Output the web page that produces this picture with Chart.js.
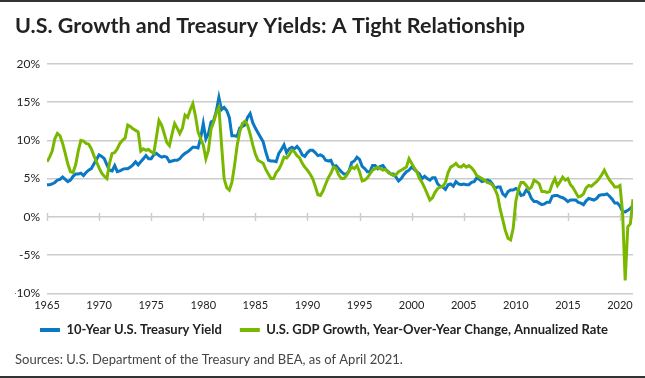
<!DOCTYPE html>
<html>
<head>
<meta charset="utf-8">
<script src="https://cdn.jsdelivr.net/npm/chart.js@4.4.1/dist/chart.umd.min.js"></script>
<style>
  body { margin: 0; background: #fff; }
  .wrap { width: 645px; height: 374px; border-top: 2px solid #333; border-bottom: 2px solid #333; }
</style>
</head>
<body>
<div class="wrap"><canvas id="myChart"></canvas></div>
<script>
// quarterly values, first point at 1965.0, one point every quarter
const startYear = 1965;

// 10-Year U.S. Treasury Yield (%)
const treasuryYield = [
  4.2, 4.2, 4.3, 4.5,   4.8, 4.9, 5.2, 4.9,   4.6, 4.8, 5.3, 5.6,   5.6, 5.7, 5.4, 5.8,   // 1965-68
  6.1, 6.3, 6.9, 7.5,   8.1, 7.9, 7.6, 6.8,   6.1, 6.0, 6.7, 5.9,   6.0, 6.2, 6.3, 6.3,   // 1969-72
  6.5, 6.8, 7.2, 6.8,   7.2, 7.6, 8.0, 7.6,   7.6, 8.1, 8.3, 8.0,   7.8, 7.9, 7.8, 7.2,   // 1973-76
  7.3, 7.4, 7.4, 7.6,   8.0, 8.3, 8.5, 8.8,   9.1, 9.1, 9.0, 10.3,  12.2, 10.2, 10.9, 12.4, // 1977-80
  12.6, 13.8, 15.6, 14.0, 14.3, 13.9, 13.0, 10.6, 10.6, 10.5, 11.6, 11.8, 12.0, 13.0, 13.5, 12.3, // 1981-84
  11.6, 11.0, 10.4, 9.8, 8.5, 7.4, 7.3, 7.3,   7.2, 8.3, 8.8, 9.4,   8.4, 8.9, 9.1, 8.9,   // 1985-88
  9.2, 8.8, 8.1, 7.9,   8.4, 8.7, 8.7, 8.4,   8.0, 8.1, 7.9, 7.4,   7.3, 7.4, 6.6, 6.7,   // 1989-92
  6.3, 5.9, 5.6, 5.6,   6.0, 7.1, 7.3, 7.8,   7.5, 6.6, 6.3, 5.9,   5.9, 6.7, 6.7, 6.3,   // 1993-96
  6.6, 6.7, 6.2, 5.9,   5.6, 5.6, 5.2, 4.7,   5.0, 5.5, 5.9, 6.1,   6.5, 6.2, 5.9, 5.6,   // 1997-2000
  5.0, 5.3, 5.0, 4.8,   5.1, 5.1, 4.3, 4.0,   3.9, 3.6, 4.2, 4.3,   4.0, 4.6, 4.3, 4.2,   // 2001-04
  4.3, 4.2, 4.2, 4.5,   4.6, 5.1, 4.9, 4.6,   4.7, 4.8, 4.7, 4.3,   3.7, 3.9, 3.9, 3.0,   // 2005-08
  2.7, 3.3, 3.5, 3.5,   3.7, 3.5, 2.8, 2.9,   3.5, 3.2, 2.4, 2.0,   2.0, 1.8, 1.6, 1.7,   // 2009-12
  1.9, 1.9, 2.7, 2.8,   2.8, 2.6, 2.5, 2.3,   2.0, 2.2, 2.2, 2.2,   1.9, 1.8, 1.6, 2.1,   // 2013-16
  2.4, 2.3, 2.2, 2.4,   2.8, 2.9, 2.9, 3.0,   2.7, 2.3, 1.8, 1.8,   1.4, 0.7, 0.65, 0.85, // 2017-20
  1.1, 1.5                                                                               // 2021
];

// U.S. GDP Growth, Year-Over-Year Change (%)
const gdpGrowth = [
  7.2, 7.8, 8.6, 10.2,  10.9, 10.6, 9.6, 8.3,  6.9, 5.9, 5.8, 6.8,   8.6, 10.0, 9.9, 9.6,  // 1965-68
  9.5, 8.9, 8.0, 7.2,   6.4, 5.7, 5.3, 5.0,   7.0, 8.3, 8.4, 8.9,   9.6, 10.0, 10.3, 12.0, // 1969-72
  11.8, 11.5, 11.3, 11.1, 8.6, 8.9, 8.7, 8.8, 8.5, 8.3, 10.4, 12.6, 12.0, 10.9, 9.7, 9.3,  // 1973-76
  10.8, 12.2, 11.6, 10.9, 11.6, 13.3, 13.0, 14.0, 14.8, 13.2, 11.1, 10.2, 9.4, 7.6, 8.7, 11.5, // 1977-80
  12.4, 13.6, 14.3, 9.5, 5.0, 3.8, 3.5, 4.5,  6.7, 9.3, 11.1, 12.2,  12.5, 12.0, 10.8, 9.4, // 1981-84
  8.2, 7.4, 7.2, 7.0,   6.2, 5.6, 5.0, 5.0,   5.8, 6.2, 6.9, 7.8,   7.7, 8.1, 8.7, 8.5,   // 1985-88
  8.0, 7.7, 7.0, 6.5,   6.1, 5.6, 5.0, 4.0,   2.9, 2.8, 3.4, 4.3,   5.1, 5.7, 6.5, 6.3,   // 1989-92
  5.5, 5.0, 5.0, 5.4,   6.0, 6.5, 6.3, 6.7,   5.9, 4.7, 4.8, 5.1,   5.6, 6.1, 6.3, 6.5,   // 1993-96
  6.3, 6.1, 6.2, 5.8,   5.6, 5.4, 5.5, 5.9,   6.1, 6.3, 6.5, 7.6,   7.0, 6.4, 5.9, 5.0,   // 1997-2000
  4.5, 3.8, 3.0, 2.2,   2.5, 3.2, 3.7, 3.9,   4.0, 4.5, 5.8, 6.5,   6.7, 7.0, 6.6, 6.5,   // 2001-04
  6.8, 6.5, 6.7, 6.4,   6.0, 5.4, 5.2, 5.0,   4.8, 4.5, 4.4, 4.2,   3.6, 2.8, 1.0, -0.4,  // 2005-08
  -1.8, -2.8, -3.0, -1.5, 2.0, 3.6, 4.5, 4.5, 4.1, 3.6, 3.9, 4.8,   4.6, 4.3, 3.3, 3.3,   // 2009-12
  3.2, 3.3, 4.3, 5.0,   4.1, 4.6, 5.2, 4.8,   5.0, 4.2, 3.8, 3.2,   2.6, 2.7, 3.0, 3.8,   // 2013-16
  4.1, 4.0, 4.3, 4.6,   5.0, 5.5, 6.1, 5.4,   4.8, 4.4, 3.9, 3.9,   4.1, 0.6, -8.3, -1.3, // 2017-20
  -0.9, 2.3                                                                              // 2021
];

const yearTicks = [1965, 1970, 1975, 1980, 1985, 1990, 1995, 2000, 2005, 2010, 2015, 2020];
const pctTicks = [-10, -5, 0, 5, 10, 15, 20];

const quarters = gdpGrowth.map((_, i) => startYear + i / 4);

const blue = '#0b78c3';
const green = '#7ab800';
const gridColor = '#cccccc';

// marcas de los años sobre la linea del 0% y etiquetas del eje x
const yearMarks = {
  id: 'yearMarks',
  beforeDatasetsDraw(chart) {
    const x = chart.scales.x, y = chart.scales.y;
    const y0 = y.getPixelForValue(0);
    const c = chart.ctx;
    c.save();
    c.strokeStyle = gridColor;
    c.lineWidth = 1.5;
    yearTicks.forEach(v => {
      const px = Math.round(x.getPixelForValue(v)) + 0.5;
      c.beginPath();
      c.moveTo(px, y0 - 4);
      c.lineTo(px, y0 + 4);
      c.stroke();
    });
    c.restore();
  },
  afterDraw(chart) {
    const x = chart.scales.x;
    const c = chart.ctx;
    c.save();
    c.fillStyle = '#222';
    c.font = '11px Lato';
    c.textAlign = 'center';
    c.textBaseline = 'middle';
    yearTicks.forEach(v => {
      c.fillText(String(v), x.getPixelForValue(v), chart.chartArea.bottom + 12);
    });
    c.restore();
  }
};

const ctx = document.getElementById('myChart').getContext('2d');

new Chart(ctx, {
  type: 'line',
  data: {
    datasets: [{
      label: '10-Year U.S. Treasury Yield',
      data: treasuryYield.map((v, i) => ({ x: quarters[i], y: v })),
      borderColor: blue,
      backgroundColor: blue,
      borderWidth: 3,
      pointRadius: 0,
      order: 1
    }, {
      label: 'U.S. GDP Growth, Year-Over-Year Change, Annualized Rate',
      data: gdpGrowth.map((v, i) => ({ x: quarters[i], y: v })),
      borderColor: green,
      backgroundColor: green,
      borderWidth: 3,
      pointRadius: 0,
      order: 0
    }]
  },
  plugins: [yearMarks],
  options: {
    responsive: true,
    maintainAspectRatio: false,
    animation: false,
    layout: { padding: { left: 15, right: 12, top: 0, bottom: 4 } },
    plugins: {
      title: {
        display: true,
        text: 'U.S. Growth and Treasury Yields: A Tight Relationship',
        align: 'start',
        color: '#222',
        font: { family: 'Lato', size: 21.5, weight: 'bold' },
        padding: { top: 11, bottom: 25 }
      },
      subtitle: {
        display: true,
        position: 'bottom',
        text: 'Sources: U.S. Department of the Treasury and BEA, as of April 2021.',
        align: 'start',
        color: '#444',
        font: { family: 'Lato', size: 13 },
        padding: { top: 6, bottom: 4 }
      },
      legend: {
        position: 'bottom',
        labels: {
          color: '#222',
          font: { family: 'Lato', size: 13, weight: 'bold' },
          boxWidth: 20,
          boxHeight: 4,
          padding: 18,
          sort: (a, b) => a.datasetIndex - b.datasetIndex,
          generateLabels: (chart) => {
            const items = Chart.defaults.plugins.legend.labels.generateLabels(chart);
            items.forEach(it => { it.lineWidth = 0; it.fillStyle = it.strokeStyle; });
            return items;
          }
        }
      },
      tooltip: { enabled: false }
    },
    scales: {
      x: {
        type: 'linear',
        min: 1965,
        max: 2021.25,
        afterBuildTicks: (scale) => { scale.ticks = yearTicks.map(v => ({ value: v })); },
        afterFit: (scale) => { scale.height = 12; },
        grid: { display: false, drawTicks: false },
        border: { display: false },
        ticks: { display: false }
      },
      y: {
        min: -10,
        max: 20,
        afterBuildTicks: (scale) => { scale.ticks = pctTicks.map(v => ({ value: v })); },
        afterFit: (scale) => { scale.width = 32; },
        grid: { color: gridColor, lineWidth: 1.5, drawTicks: false },
        border: { display: false },
        ticks: {
          color: '#222',
          font: { family: 'Lato', size: 12 },
          padding: 7,
          callback: (v) => v + '%'
        }
      }
    }
  }
});
</script>
</body>
</html>
